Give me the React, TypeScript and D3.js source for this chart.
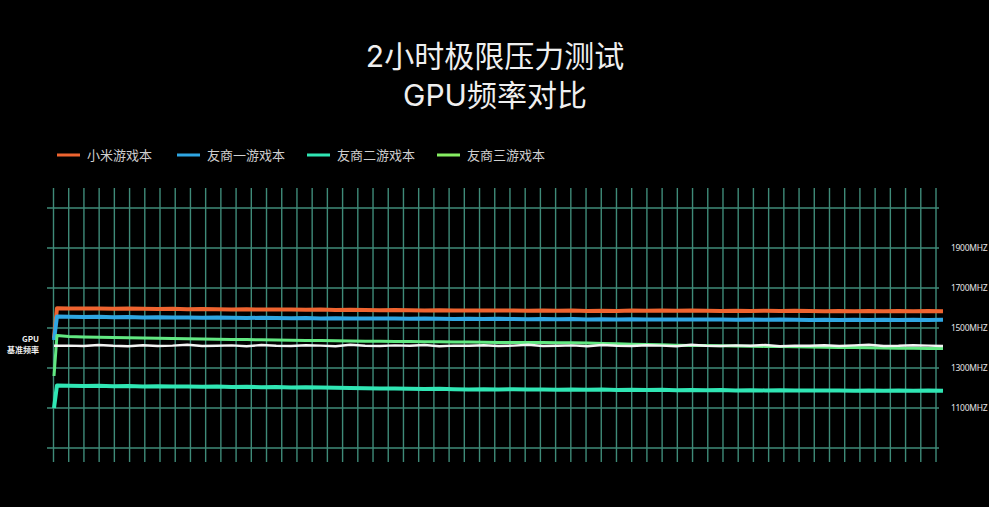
import * as d3 from "d3";

// time in minutes over the 2h run
const times = [
  0, 0.4, 2, 4, 6, 8, 10, 12, 14, 16,
  18, 20, 22, 24, 26, 28, 30, 32, 34, 36,
  38, 40, 42, 44, 46, 48, 50, 52, 54, 56,
  58, 60, 62, 64, 66, 68, 70, 72, 74, 76,
  78, 80, 82, 84, 86, 88, 90, 92, 94, 96,
  98, 100, 102, 104, 106, 108, 110, 112, 114, 116,
  118, 120,
];

// GPU MHz
const xiaomi = [
  1450, 1599, 1598, 1597, 1598, 1596, 1597, 1596, 1595, 1596,
  1594, 1595, 1594, 1593, 1594, 1592, 1593, 1592, 1591, 1592,
  1590, 1591, 1590, 1589, 1590, 1589, 1588, 1589, 1588, 1587,
  1588, 1587, 1588, 1586, 1587, 1586, 1587, 1585, 1586, 1585,
  1587, 1586, 1587, 1586, 1587, 1586, 1585, 1586, 1585, 1586,
  1585, 1586, 1585, 1584, 1585, 1584, 1585, 1584, 1585, 1584,
  1585, 1584,
];
const rival1 = [
  1440, 1557, 1556, 1555, 1556, 1554, 1555, 1553, 1554, 1552,
  1553, 1551, 1552, 1551, 1550, 1551, 1550, 1549, 1550, 1548,
  1549, 1548, 1547, 1548, 1547, 1546, 1547, 1546, 1545, 1546,
  1545, 1546, 1545, 1544, 1545, 1544, 1545, 1543, 1544, 1543,
  1544, 1543, 1542, 1543, 1542, 1543, 1542, 1541, 1542, 1541,
  1542, 1541, 1540, 1541, 1540, 1541, 1540, 1541, 1540, 1541,
  1540, 1541,
];
const rival2 = [
  1100, 1213, 1211, 1210, 1211, 1209, 1210, 1208, 1209, 1207,
  1208, 1206, 1207, 1205, 1206, 1204, 1205, 1203, 1204, 1202,
  1201, 1200, 1199, 1198, 1197, 1196, 1195, 1196, 1194, 1193,
  1194, 1193, 1194, 1192, 1193, 1191, 1192, 1191, 1192, 1190,
  1191, 1190, 1191, 1189, 1190, 1189, 1190, 1188, 1189, 1188,
  1189, 1187, 1188, 1187, 1188, 1186, 1187, 1186, 1187, 1186,
  1187, 1186,
];
const rival3 = [
  1260, 1462, 1457, 1455, 1454, 1452, 1451, 1450, 1449, 1447,
  1446, 1445, 1444, 1443, 1442, 1441, 1440, 1439, 1438, 1437,
  1436, 1435, 1434, 1434, 1433, 1432, 1431, 1431, 1430, 1430,
  1429, 1428, 1428, 1427, 1427, 1426, 1426, 1425, 1423, 1421,
  1419, 1417, 1416, 1414, 1413, 1412, 1411, 1410, 1409, 1408,
  1407, 1406, 1405, 1404, 1403, 1402, 1401, 1400, 1399, 1399,
  1398, 1397,
];
const baseline = [
  1411, 1411, 1412, 1410, 1415, 1411, 1409, 1414, 1410, 1412,
  1416, 1410, 1411, 1413, 1409, 1415, 1411, 1410, 1414, 1412,
  1409, 1416, 1411, 1410, 1413, 1411, 1415, 1409, 1412, 1411,
  1414, 1410, 1412, 1416, 1410, 1411, 1413, 1409, 1415, 1411,
  1410, 1414, 1412, 1409, 1416, 1411, 1410, 1413, 1411, 1415,
  1409, 1412, 1411, 1414, 1410, 1413, 1416, 1410, 1411, 1414,
  1412, 1410,
];

const titleLines = ["2小时极限压力测试", "GPU频率对比"];
const seriesNames = ["小米游戏本", "友商一游戏本", "友商二游戏本", "友商三游戏本"];
const seriesColors = ["#ee6430", "#2fa6e2", "#30e6b4", "#86ee62"];
const yTicks = [1900, 1700, 1500, 1300, 1100];

const W = 989;
const H = 507;

export default function App() {
  const x = d3.scaleLinear().domain([0, 120]).range([54, 943]);
  const y = d3.scaleLinear().domain([900, 2100]).range([448, 208]);
  const gx = d3.scaleLinear().domain([0, 58]).range([53.5, 936]);
  const gridX = d3.range(59);
  const gridY = d3.range(900, 2101, 200);

  const line = (vals: number[]) =>
    d3.line<number>().x((_, i) => x(times[i])).y((d) => y(d))(vals) || "";

  // draw order: teal, orange, blue, green, white on top
  const lines = [
    { vals: rival2, color: seriesColors[2], w: 4 },
    { vals: xiaomi, color: seriesColors[0], w: 4 },
    { vals: rival1, color: seriesColors[1], w: 4 },
    { vals: rival3, color: "#62e882", w: 3 },
    { vals: baseline, color: "#f4f4f4", w: 2.4 },
  ];

  const legendX = [57, 177, 307, 437];
  const cjk = "'Noto Sans CJK SC', 'Noto Sans', sans-serif";
  // Inter first keeps the title line boxes compact; CJK glyphs fall back
  const titleFont = "Inter, 'Noto Sans CJK SC', sans-serif";

  return (
    <svg
      width={W}
      height={H}
      style={{ position: "absolute", left: 0, top: 0, display: "block", background: "#000" }}
    >
      <rect width={W} height={H} fill="#000" />

      <text x={495} y={67} textAnchor="middle" fill="#efefef" fontSize={30} fontFamily={titleFont}>
        {titleLines[0]}
      </text>
      <text x={495} y={106} textAnchor="middle" fill="#efefef" fontSize={30} fontFamily={titleFont}>
        {titleLines[1]}
      </text>

      {seriesNames.map((name, i) => (
        <g key={name} transform={`translate(${legendX[i]},155)`}>
          <line x1={0} x2={23} y1={0} y2={0} stroke={seriesColors[i]} strokeWidth={3} />
          <text x={30} y={4.5} fill="#cfcfcf" fontSize={13} fontFamily={cjk}>
            {name}
          </text>
        </g>
      ))}

      <g stroke="#3f8b79" strokeWidth={1.4}>
        {gridY.map((v) => (
          <line key={"h" + v} x1={47} x2={939} y1={y(v)} y2={y(v)} />
        ))}
        {gridX.map((i) => (
          <line key={"v" + i} x1={gx(i)} x2={gx(i)} y1={188} y2={462} />
        ))}
      </g>

      {lines.map((l, i) => (
        <path
          key={i}
          d={line(l.vals)}
          fill="none"
          stroke={l.color}
          strokeWidth={l.w}
          strokeLinejoin="round"
        />
      ))}

      {yTicks.map((v) => (
        <text
          key={v}
          x={951}
          y={y(v) + 3}
          fill="#e4e4e4"
          fontSize={8.5}
          letterSpacing={-0.3}
          fontFamily="'Noto Sans', sans-serif"
        >
          {v}MHZ
        </text>
      ))}

      <text textAnchor="end" fill="#f0f0f0" fontSize={8} fontWeight="bold" fontFamily={cjk}>
        <tspan x={39} y={342}>GPU</tspan>
        <tspan x={39} y={352.5}>基准频率</tspan>
      </text>
    </svg>
  );
}
